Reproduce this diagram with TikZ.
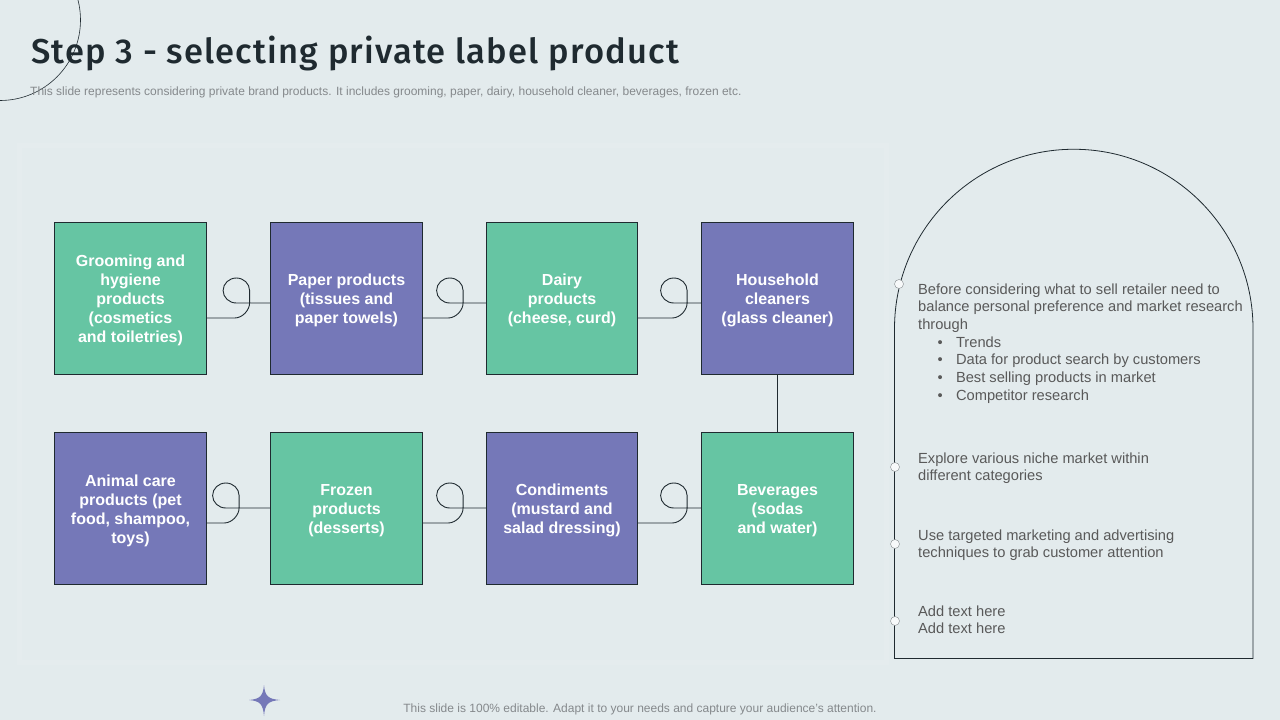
\documentclass[tikz,border=0pt]{standalone}
\usepackage{fontspec}
\setmainfont{Liberation Sans}
\newfontfamily\titlefont[LetterSpace=3.4]{Fira Sans Medium}
\usetikzlibrary{calc}
\definecolor{bgc}{HTML}{E3EBED}
\definecolor{panelb}{HTML}{E5ECEE}
\definecolor{greenc}{HTML}{66C5A3}
\definecolor{purplec}{HTML}{7578B8}
\definecolor{linec}{HTML}{1F2A30}
\definecolor{txtc}{HTML}{595959}
\definecolor{subc}{HTML}{85898C}
\tikzset{
  x=1pt,y=-1pt,
  boxbase/.style={draw=linec,line width=0.7pt,minimum width=152.5pt,minimum height=152.5pt,inner sep=0pt,
    text=white,align=center,font=\fontsize{16}{19}\selectfont\bfseries},
  narrow/.style={minimum width=151.5pt},
  gbox/.style={boxbase,fill=greenc},
  pbox/.style={boxbase,fill=purplec},
  link/.style={draw=linec,line width=0.9pt},
  note/.style={anchor=north west,inner sep=0pt,align=left,text=txtc,font=\fontsize{14.67}{17.65}\selectfont},
  dot/.style={circle,draw=linec!55,line width=0.4pt,fill=white!70!bgc,minimum size=9pt,inner sep=0pt},
}
\newcommand{\loopconn}[4]{%
  \draw[link] ($(#1.east)+(0,#3)$) -- ++(#4,0)
    .. controls +(8.3,0) and +(0,6.7) .. ++(15,-15)
    -- ++(0,-12.5)
    .. controls +(0,-6.9) and +(7.3,0) .. ++(-13.25,-12.5)
    .. controls +(-7.3,0) and +(0,-6.9) .. ++(-13.25,12.5)
    .. controls +(0,6.9) and +(-7.3,0) .. ++(13.25,12.5)
    -- ($(#2.west)+(0,#3-15)$);}
\newcommand{\bul}{\hspace{19.5pt}•\hspace{13.2pt}}
\newcommand{\upl}{\rule{0pt}{15.8pt}}
\begin{document}
\begin{tikzpicture}
\useasboundingbox (0,0) rectangle (1280,720);
\fill[bgc] (0,0) rectangle (1280,720);
\fill[panelb] (17,143) rectangle (889,665);
\fill[bgc] (22,148) rectangle (884,660);
\begin{scope}
\clip (0,0) rectangle (1280,720);
\draw[linec,line width=0.6pt] (0,20) circle [radius=80.5pt];
\end{scope}
\node[anchor=base west,inner sep=0pt,text=linec,font=\fontsize{34.5}{40}\selectfont\titlefont] (title) at (31,63.5) {Step 3 - selecting private label product};
\node[anchor=base west,inner sep=0pt,text=subc,font=\fontsize{12}{14}\selectfont] (sub) at (30,95) {This slide represents considering private brand products. It includes grooming, paper, dairy, household cleaner, beverages, frozen etc.};

\node[gbox] (b1) at (130.5,298.5) {\upl Grooming and\\hygiene\\products\\(cosmetics\\and toiletries)};
\node[pbox] (b2) at (346.5,298.5) {\upl Paper products\\(tissues and\\paper towels)};
\node[gbox,narrow] (b3) at (562,298.5) {\upl Dairy\\products\\(cheese, curd)};
\node[pbox] (b4) at (777.5,298.5) {\upl Household\\cleaners\\(glass cleaner)};
\node[pbox] (b5) at (130.5,508.5) {\upl Animal care\\products (pet\\food, shampoo,\\toys)};
\node[gbox] (b6) at (346.5,508.5) {\upl Frozen\\products\\(desserts)};
\node[pbox,narrow] (b7) at (562,508.5) {\upl Condiments\\(mustard and\\salad dressing)};
\node[gbox] (b8) at (777.5,508.5) {\upl Beverages\\(sodas\\and water)};

\loopconn{b1}{b2}{19.5}{27.5}
\loopconn{b2}{b3}{19.5}{25}
\loopconn{b3}{b4}{19.5}{34}
\loopconn{b5}{b6}{14.5}{17}
\loopconn{b6}{b7}{14.5}{25}
\loopconn{b7}{b8}{14.5}{34}
\draw[link] (b4) -- (b8);

\draw[linec,line width=0.8pt] (894.5,658.5) -- (894.5,328.5) arc[start angle=180,end angle=0,radius=179.25pt] -- (1253,658.5) -- cycle;
\node[dot] (d1) at (899,284) {};
\node[dot] (d2) at (895,467) {};
\node[dot] (d3) at (895,544) {};
\node[dot] (d4) at (895,621) {};

\node[note] (n1) at (918,283.5) {Before considering what to sell retailer need to\\balance personal preference and market research\\through\\\bul Trends\\\bul Data for product search by customers\\\bul Best selling products in market\\\bul Competitor research};
\node[note] (n2) at (918,452.5) {Explore various niche market within\\different categories};
\node[note] (n3) at (918,529.5) {Use targeted marketing and advertising\\techniques to grab customer attention};
\node[note] (n4) at (918,605.5) {Add text here\\Add text here};

\fill[purplec] (264,685) .. controls (265,696) and (268,699) .. (280,700) .. controls (268,701) and (265,704) .. (264,716) .. controls (263,704) and (260,701) .. (249,700) .. controls (260,699) and (263,696) .. (264,685) -- cycle;
\node[anchor=base,inner sep=0pt,text=subc,font=\fontsize{12}{14}\selectfont] (foot) at (640,712.5) {This slide is 100\% editable. Adapt it to your needs and capture your audience's attention.};
\end{tikzpicture}
\end{document}
